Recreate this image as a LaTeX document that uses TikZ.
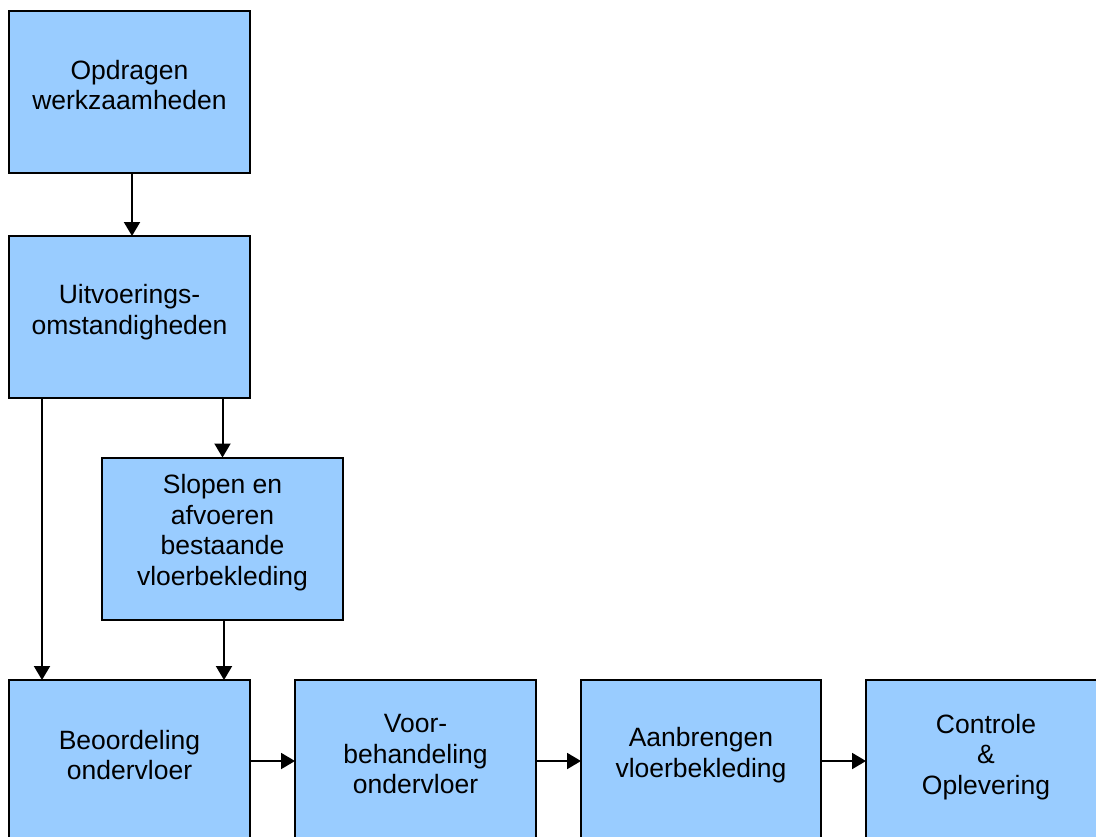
\documentclass[tikz,border=0pt]{standalone}
\usepackage{fontspec}
\setmainfont{Liberation Sans}
\usetikzlibrary{arrows.meta}
\definecolor{boxblue}{HTML}{99CCFF}
\begin{document}
\begin{tikzpicture}[x=0.5pt,y=-0.5pt,
  box/.style={draw=black, line width=1pt, fill=boxblue, minimum width=120.5pt, minimum height=81pt, inner sep=0pt, outer sep=0pt},
  lbl/.style={align=center, font=\fontsize{13.25}{15.3}\selectfont, inner sep=0pt},
  conn/.style={line width=1pt, -{Triangle[length=7pt,width=8pt]}}]
\useasboundingbox (0,0) rectangle (1096,836);
\clip (0,0) rectangle (1096,836);
% boxes
\node[box] (A) at (129.5,92) {};
\node[box] (B) at (129.5,317) {};
\node[box] (C) at (222.5,538.5) {};
\node[box] (D) at (129.5,761) {};
\node[box] (E) at (415.5,761) {};
\node[box, minimum width=120pt] (F) at (701,761) {};
\node[box, minimum width=120pt] (G) at (986,761) {};
% labels
\node[lbl] (tA) at ([yshift=3.5pt]A.center) {Opdragen\\werkzaamheden};
\node[lbl] (tB) at ([yshift=2.5pt]B.center) {Uitvoerings-\\omstandigheden};
\node[lbl] (tC) at ([yshift=3pt]C.center) {Slopen en\\afvoeren\\bestaande\\vloerbekleding};
\node[lbl] (tD) at ([yshift=3pt]D.center) {Beoordeling\\ondervloer};
\node[lbl] (tE) at ([yshift=3.5pt]E.center) {Voor-\\behandeling\\ondervloer};
\node[lbl] (tF) at ([yshift=3pt]F.center) {Aanbrengen\\vloerbekleding};
\node[lbl] (tG) at ([yshift=2pt]G.center) {Controle\\\&\\Oplevering};
% connectors
\draw[conn] ([xshift=1.25pt]A.south) -- ([xshift=1.25pt]B.north);
\draw[conn] (B.south -| C.north) -- (C.north);
\draw[conn] ([xshift=16.5pt]B.south west) -- ([xshift=16.5pt]D.north west);
\draw[conn] ([xshift=0.75pt]C.south) -- ([xshift=0.75pt]C.south |- D.north);
\draw[conn] (D.east) -- (E.west);
\draw[conn] (E.east) -- (F.west);
\draw[conn] (F.east) -- (G.west);
\end{tikzpicture}
\end{document}
